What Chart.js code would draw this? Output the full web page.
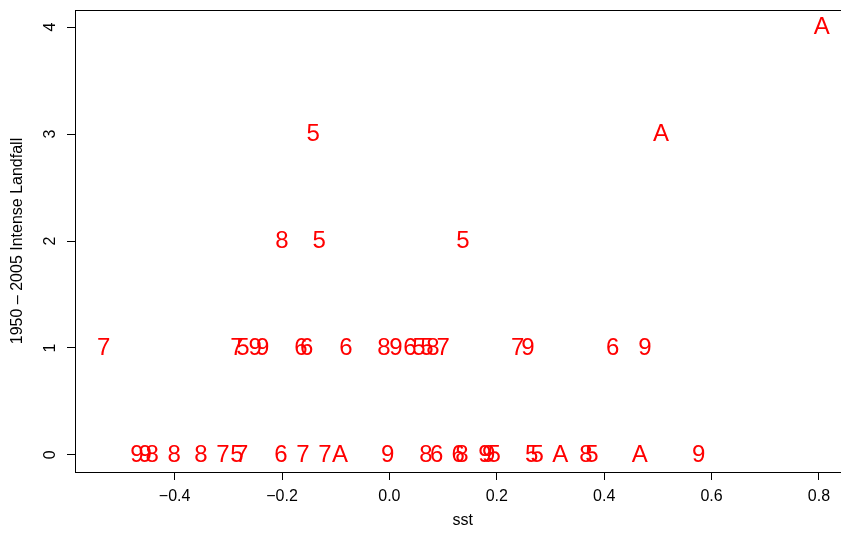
<!DOCTYPE html>
<html>
<head>
   <title>Intense Landfall vs SST</title>
   <script src="https://cdn.jsdelivr.net/npm/chart.js"></script>
   <style>
       html, body { margin: 0; padding: 0; background: #fff; overflow: hidden; }
   </style>
</head>
<body>
   <canvas id="sstChart" width="852" height="538"></canvas>

   <script>
       // sst anomaly, landfall count and the decade code plotted as the mark
       const sst = [
           -0.470, -0.455, -0.442, -0.401, -0.351, -0.310, -0.284, -0.275, -0.202, -0.161,
           -0.120, -0.092, -0.003, 0.068, 0.088, 0.128, 0.135, 0.178, 0.185, 0.195,
           0.265, 0.275, 0.318, 0.366, 0.377, 0.466, 0.576,
           -0.532, -0.284, -0.273, -0.250, -0.236, -0.165, -0.154, -0.081, -0.010, 0.012,
           0.038, 0.055, 0.070, 0.081, 0.100, 0.239, 0.258, 0.416, 0.476,
           -0.200, -0.131, 0.137,
           -0.142, 0.506,
           0.805
       ];
       const landfall = [
           0, 0, 0, 0, 0, 0, 0, 0, 0, 0,
           0, 0, 0, 0, 0, 0, 0, 0, 0, 0,
           0, 0, 0, 0, 0, 0, 0,
           1, 1, 1, 1, 1, 1, 1, 1, 1, 1,
           1, 1, 1, 1, 1, 1, 1, 1, 1,
           2, 2, 2,
           3, 3,
           4
       ];
       const era = [
           "9", "9", "8", "8", "8", "7", "5", "7", "6", "7",
           "7", "A", "9", "8", "6", "6", "8", "9", "9", "5",
           "5", "5", "A", "8", "5", "A", "9",
           "7", "7", "5", "9", "9", "6", "6", "6", "8", "9",
           "6", "5", "5", "8", "7", "7", "9", "6", "9",
           "8", "5", "5",
           "5", "A",
           "A"
       ];
       const xTicks = [-0.4, -0.2, 0.0, 0.2, 0.4, 0.6, 0.8];
       const yTicks = [0, 1, 2, 3, 4];

       const fontFamily = "'Liberation Sans', Arial, Helvetica, sans-serif";

       // draw the decade code at each point, plus the R-style box
       const textMarks = {
           id: "textMarks",
           afterDatasetsDraw(chart) {
               const ctx = chart.ctx;
               const meta = chart.getDatasetMeta(0);
               ctx.save();
               ctx.fillStyle = "#ff0000";
               ctx.font = "24px " + fontFamily;
               ctx.textAlign = "center";
               ctx.textBaseline = "middle";
               meta.data.forEach(function (pt, i) {
                   ctx.fillText(era[i], pt.x, pt.y);
               });
               ctx.restore();
           },
           afterDraw(chart) {
               const a = chart.chartArea;
               const ctx = chart.ctx;
               ctx.save();
               ctx.strokeStyle = "#000";
               ctx.lineWidth = 1;
               ctx.strokeRect(Math.round(a.left) + 0.5, Math.round(a.top) + 0.5,
                   Math.round(a.right - a.left), Math.round(a.bottom - a.top));
               ctx.restore();
           }
       };

       const points = sst.map((v, i) => ({ x: v, y: landfall[i] }));

       const chart = new Chart(document.getElementById("sstChart"), {
           type: "scatter",
           data: {
               datasets: [{
                   data: points,
                   pointRadius: 0,
                   pointHoverRadius: 0
               }]
           },
           options: {
               responsive: false,
               animation: false,
               events: [],
               layout: { padding: { top: 10, right: 1.6, bottom: 0, left: 0 } },
               plugins: {
                   legend: { display: false },
                   tooltip: { enabled: false }
               },
               scales: {
                   x: {
                       type: "linear",
                       min: -0.5855,
                       max: 0.8585,
                       afterBuildTicks: s => { s.ticks = xTicks.map(v => ({ value: v })); },
                       afterFit: s => { s.height = 66; s.paddingLeft = 0; s.paddingRight = 0; },
                       grid: { drawOnChartArea: false, drawTicks: true, tickLength: 8, color: "#000" },
                       border: { display: true, color: "#000" },
                       ticks: {
                           color: "#000",
                           font: { family: fontFamily, size: 16 },
                           padding: 7,
                           maxRotation: 0,
                           callback: v => v.toFixed(1).replace("-", "\u2212")
                       },
                       title: {
                           display: true,
                           text: "sst",
                           color: "#000",
                           font: { family: fontFamily, size: 16 },
                           padding: { top: 0, bottom: 8 }
                       }
                   },
                   y: {
                       type: "linear",
                       min: -0.16,
                       max: 4.16,
                       afterBuildTicks: s => { s.ticks = yTicks.map(v => ({ value: v })); },
                       afterFit: s => { s.width = 75; s.paddingTop = 0; s.paddingBottom = 0; },
                       grid: { drawOnChartArea: false, drawTicks: true, tickLength: 8, color: "#000" },
                       border: { display: true, color: "#000" },
                       ticks: {
                           color: "#000",
                           font: { family: fontFamily, size: 16 },
                           padding: 12,
                           minRotation: 90,
                           maxRotation: 90,
                           crossAlign: "center",
                           callback: v => String(v)
                       },
                       title: {
                           display: true,
                           text: "1950 \u2013 2005 Intense Landfall",
                           color: "#000",
                           font: { family: fontFamily, size: 16 },
                           padding: { top: 8, bottom: 0 }
                       }
                   }
               }
           },
           plugins: [textMarks]
       });
   </script>
</body>
</html>
